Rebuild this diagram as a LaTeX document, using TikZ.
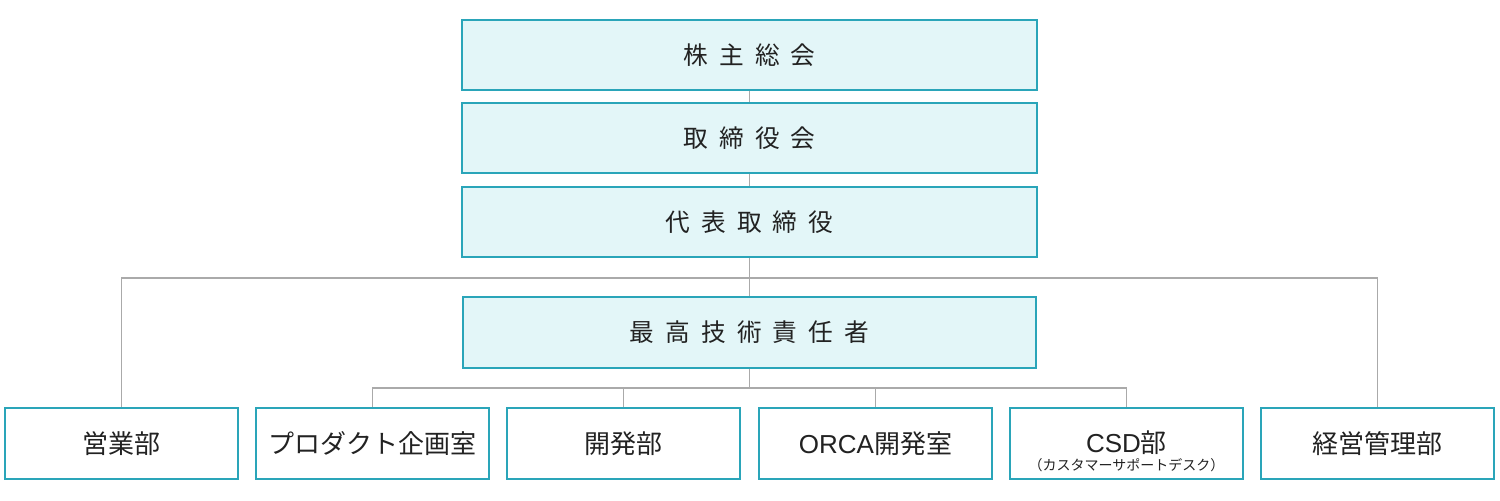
\documentclass[tikz,border=0pt]{standalone}
\usepackage{fontspec}
\setmainfont{Noto Sans CJK JP}
\newfontfamily\lat{Liberation Sans}
\definecolor{tealb}{HTML}{2AA5B9}
\definecolor{cyf}{HTML}{E3F6F8}
\definecolor{lineg}{HTML}{AAAAAA}
\definecolor{txt}{HTML}{222222}
\begin{document}
\begin{tikzpicture}[x=0.75pt,y=-0.75pt,
  topbox/.style={draw=tealb,line width=1.2pt,fill=cyf,text=txt,minimum width=575*0.75pt,minimum height=70*0.75pt,inner sep=0,font=\fontsize{18.5}{22}\selectfont},
  botbox/.style={draw=tealb,line width=1.2pt,fill=white,text=txt,minimum width=233*0.75pt,minimum height=71*0.75pt,inner sep=0,font=\fontsize{19.5}{22}\selectfont},
  conn/.style={draw=lineg,line width=1.4pt}]
\useasboundingbox (0,0) rectangle (1500,500);
\node[topbox] (a) at (749.5,55) {株\hspace{0.45em}主\hspace{0.45em}総\hspace{0.45em}会};
\node[topbox] (b) at (749.5,138) {取\hspace{0.45em}締\hspace{0.45em}役\hspace{0.45em}会};
\node[topbox] (c) at (749.5,222) {代\hspace{0.45em}表\hspace{0.45em}取\hspace{0.45em}締\hspace{0.45em}役};
\node[topbox,minimum width=573*0.75pt,minimum height=71*0.75pt] (d) at (749.5,332.5) {最\hspace{0.45em}高\hspace{0.45em}技\hspace{0.45em}術\hspace{0.45em}責\hspace{0.45em}任\hspace{0.45em}者};
\node[botbox] (e1) at (121.5,443.5) {営業部};
\node[botbox] (e2) at (372.5,443.5) {プロダクト企画室};
\node[botbox] (e3) at (623.5,443.5) {開発部};
\node[botbox] (e4) at (875.5,443.5) {{\lat ORCA}開発室};
\node[botbox] (e5) at (1126.5,443.5) {};
\node[anchor=base,text=txt] (e5t) at (1126.5,452) {\fontsize{19.5}{22}\selectfont{\lat CSD}部};
\node[text=txt] (e5s) at (1126.5,465) {\fontsize{10.5}{12}\selectfont（カスタマーサポートデスク）};
\node[botbox] (e6) at (1377.5,443.5) {経営管理部};
\coordinate (h) at (749.5,278);
\coordinate (k) at (749.5,388);
\draw[conn] (a.south) -- (b.north);
\draw[conn] (b.south) -- (c.north);
\draw[conn] (c.south) -- (d.north);
\draw[conn] (e1.north) |- (h) -| (e6.north);
\draw[conn] (d.south) -- (k);
\draw[conn] (e2.north) |- (k) -| (e5.north);
\draw[conn] (e3.north) -- (e3.north |- k);
\draw[conn] (e4.north) -- (e4.north |- k);
\end{tikzpicture}
\end{document}
